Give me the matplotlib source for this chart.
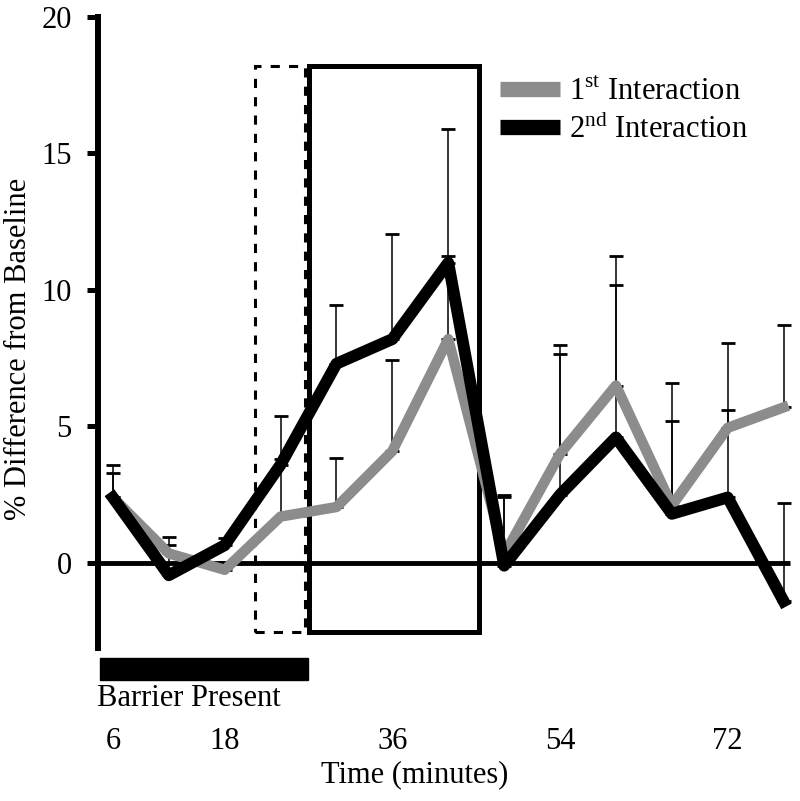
import matplotlib
matplotlib.use("Agg")
import matplotlib.pyplot as plt
from matplotlib.patches import Rectangle
from matplotlib.lines import Line2D

plt.rcParams['font.family'] = ['Liberation Serif', 'DejaVu Serif']
plt.rcParams['mathtext.fontset'] = 'custom'
plt.rcParams['mathtext.rm'] = 'Liberation Serif'

times = [6, 12, 18, 24, 30, 36, 42, 48, 54, 60, 66, 72, 78]
first_mean = [2.4, 0.35, -0.25, 1.7, 2.05, 4.1, 8.2, 0.3, 4.0, 6.5, 2.1, 4.95, 5.7]
first_err = [0.9, 0.3, 0.3, 3.7, 1.8, 3.35, 3.05, 2.2, 3.65, 3.7, 3.1, 0.65, 3.0]
second_mean = [2.4, -0.45, 0.65, 3.6, 7.3, 8.2, 11.0, -0.1, 2.5, 4.6, 1.8, 2.4, -1.4]
second_err = [1.2, 1.4, 0.25, 0.2, 2.15, 3.85, 4.9, 2.5, 5.5, 6.65, 4.8, 5.65, 3.6]
xtick_vals = [6, 18, 36, 54, 72]
yticks = [0, 5, 10, 15, 20]

# boxes and barrier period (minutes / % units)
barrier = (4.6, 26.9)
dashed_box = (21.2, 26.6)
solid_box = (27.1, 45.3)
box_y = (-2.53, 18.2)

fs = 22
grey = '#8c8c8c'

fig = plt.figure(figsize=(8, 8.01), dpi=100)
ax = fig.add_axes([0.1225, 0.1915, 0.871, 0.7873])
ax.set_xlim(4.4, 79.2)
ax.set_ylim(-3.1, 20)

for s in ['top', 'right', 'bottom']:
    ax.spines[s].set_visible(False)
ax.spines['left'].set_linewidth(4.3)

ax.set_yticks(yticks)
ax.tick_params(axis='y', length=8, width=3.6, pad=11, labelsize=fs)
ax.set_xticks(xtick_vals)
ax.tick_params(axis='x', length=0, pad=57, labelsize=fs)

ax.hlines(0, 4.4, 78.7, color='black', lw=3.5, zorder=1)

ax.add_patch(Rectangle((dashed_box[0], box_y[0]), dashed_box[1] - dashed_box[0],
                       box_y[1] - box_y[0], fill=False, ec='black', lw=2.2,
                       ls=(0, (3, 3)), zorder=1))
ax.add_patch(Rectangle((solid_box[0], box_y[0]), solid_box[1] - solid_box[0],
                       box_y[1] - box_y[0], fill=False, ec='black', lw=3.6, zorder=1))

ax.errorbar(times, first_mean, yerr=[[0] * len(times), first_err], fmt='none',
            ecolor='black', elinewidth=1.1, capsize=5, capthick=2, zorder=2)
ax.errorbar(times, second_mean, yerr=[[0] * len(times), second_err], fmt='none',
            ecolor='black', elinewidth=1.1, capsize=5, capthick=2, zorder=2)
ax.plot(times, first_mean, color=grey, lw=7.5, zorder=3)
ax.plot(times, second_mean, color='black', lw=8.5, zorder=4)

ax.add_patch(Rectangle((barrier[0], -4.29), barrier[1] - barrier[0], 0.81,
                       color='black', clip_on=False))
ax.text(4.3, -4.95, 'Barrier Present', fontsize=fs, ha='left', va='center')

ax.set_xlabel('Time (minutes)', fontsize=fs)
ax.xaxis.set_label_coords(0.455, -0.178)
ax.set_ylabel('% Difference from Baseline', fontsize=fs)
ax.yaxis.set_label_coords(-0.093, 0.473)

handles = [Line2D([], [], color=grey, lw=11, solid_capstyle='butt'),
           Line2D([], [], color='black', lw=11, solid_capstyle='butt')]
labels = ['1$^{\\mathrm{st}}$ Interaction', '2$^{\\mathrm{nd}}$ Interaction']
ax.legend(handles, labels, loc='upper left', bbox_to_anchor=(500 / 800, 1 - 78 / 801),
          bbox_transform=fig.transFigure, frameon=False, fontsize=fs,
          handlelength=1.95, handletextpad=0.3, labelspacing=0.2,
          borderpad=0, borderaxespad=0)

fig.savefig('out.png', dpi=100)
